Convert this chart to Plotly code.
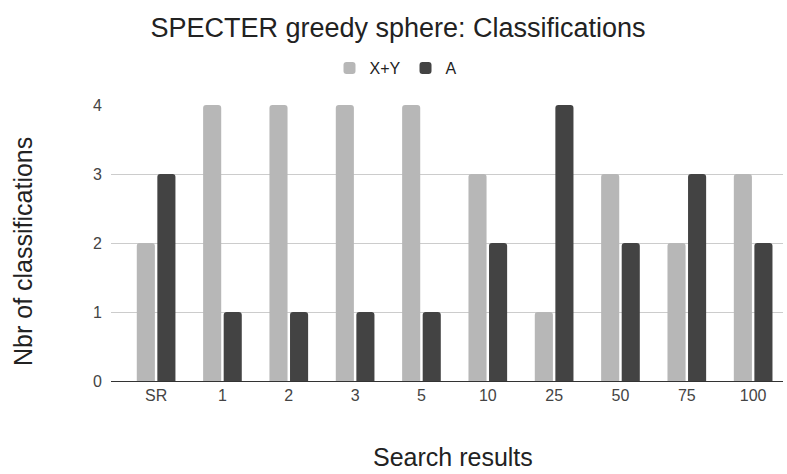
import plotly.graph_objects as go

categories = ["SR", "1", "2", "3", "5", "10", "25", "50", "75", "100"]
xy_counts = [2, 4, 4, 4, 4, 3, 1, 3, 2, 3]
a_counts = [3, 1, 1, 1, 1, 2, 4, 2, 3, 2]
y_ticks = [0, 1, 2, 3, 4]

font_family = "Liberation Sans, Arial, sans-serif"

fig = go.Figure()
fig.add_trace(go.Bar(name="X+Y", x=categories, y=xy_counts,
                     marker=dict(color="#b7b7b7", cornerradius=3, line=dict(width=0))))
fig.add_trace(go.Bar(name="A", x=categories, y=a_counts,
                     marker=dict(color="#434343", cornerradius=3, line=dict(width=0))))

fig.update_layout(
    width=787, height=474,
    margin=dict(l=111, r=4, t=105, b=93),
    paper_bgcolor="white", plot_bgcolor="white",
    font=dict(family=font_family, color="#444444", size=16),
    barmode="group", bargap=0.38, bargroupgap=0.12,
    title=dict(text="SPECTER greedy sphere: Classifications",
               x=398 / 787, xref="container", xanchor="center",
               y=1 - 28 / 474, yref="container", yanchor="middle",
               font=dict(size=27, color="#222222", family=font_family)),
    legend=dict(orientation="h", xref="container", yref="container",
                x=396 / 787, xanchor="center", y=1 - 68 / 474, yanchor="middle",
                font=dict(size=16, color="#222222"), itemwidth=30,
                traceorder="normal"),
    xaxis=dict(type="category", range=[-0.68, 9.45], showgrid=False,
               showline=True, linecolor="#333333", linewidth=1,
               ticks="", tickfont=dict(size=16, color="#444444")),
    yaxis=dict(range=[0, 4], tickvals=y_ticks, showgrid=True,
               gridcolor="#cccccc", gridwidth=1, zeroline=False,
               showline=False, ticks="", ticklabelstandoff=8,
               tickfont=dict(size=16, color="#444444")),
    annotations=[
        dict(text="Search results", xref="paper", yref="paper",
             x=(453 - 111) / 672, y=-(473 - 381) / 276,
             xanchor="center", yanchor="bottom", showarrow=False,
             font=dict(size=25, color="#222222")),
        dict(text="Nbr of classifications", xref="paper", yref="paper",
             x=-(111 - 23) / 672, y=(381 - 252) / 276, textangle=-90,
             xanchor="center", yanchor="middle", showarrow=False,
             font=dict(size=25, color="#222222")),
    ],
)

fig.write_html("out.html")
